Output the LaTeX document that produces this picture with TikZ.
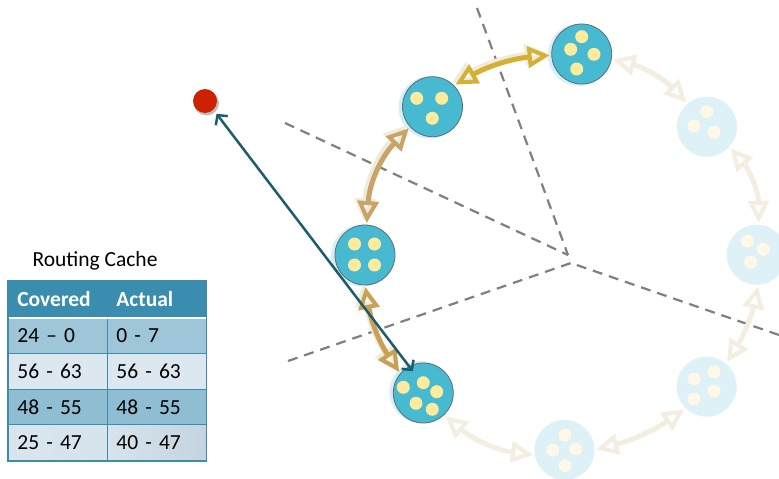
\documentclass[tikz,border=0pt]{standalone}
\usepackage{fontspec}
\setmainfont{Carlito}
\usetikzlibrary{arrows.meta,calc}
\definecolor{nodeblue}{HTML}{47B9D1}
\definecolor{nodeedge}{HTML}{5E6E74}
\definecolor{haloblue}{HTML}{D6EEF5}
\definecolor{ghostblue}{HTML}{DDF1F7}
\definecolor{dotyellow}{HTML}{FCEB9C}
\definecolor{dotcream}{HTML}{FDF8E7}
\definecolor{goldlink}{HTML}{D4B132}
\definecolor{tanlink}{HTML}{C8A468}
\definecolor{tanlinkb}{HTML}{C9A056}
\definecolor{ghostlinkc}{HTML}{F3EEDF}
\definecolor{shadowc}{HTML}{F0EAD9}
\definecolor{tealline}{HTML}{1D5C6C}
\definecolor{reddot}{HTML}{CC2200}
\definecolor{dashc}{HTML}{808080}
\definecolor{hdrc}{HTML}{3A8DAE}
\definecolor{rowa}{HTML}{9FC5D8}
\definecolor{rowb}{HTML}{DCE7F0}
\definecolor{rowc}{HTML}{8FBDD1}
\definecolor{rowd}{HTML}{D9E5EE}
\definecolor{rowdr}{HTML}{C3D4E0}
\tikzset{
  ringnode/.style={circle, minimum size=60pt, inner sep=0pt, outer sep=0pt},
  live/.style={ringnode, fill=nodeblue, draw=nodeedge, line width=0.8pt},
  ghost/.style={ringnode, fill=ghostblue},
  halo/.style={fill=haloblue},
  dotlive/.style={fill=dotyellow},
  dotghost/.style={fill=dotcream},
  link/.style={line width=5pt, shorten <=2pt, shorten >=2pt,
    arrows={Triangle[open,length=22pt,width=21pt,line width=4pt]-Triangle[open,length=22pt,width=21pt,line width=4pt]}},
  shadowlink/.style={link, draw=shadowc, transform canvas={shift={(-3pt,2.5pt)}}},
  ghostlink/.style={link, draw=ghostlinkc},
  divider/.style={dashc, line width=2.2pt, dash pattern=on 10pt off 7pt},
  cell/.style={anchor=north west, minimum width=99pt, minimum height=35.8pt, inner sep=0pt,
    text width=81pt, align=left, draw=hdrc, line width=0.7pt, font=\fontsize{21.5}{24}\selectfont, text=black},
  hdrcell/.style={cell, fill=hdrc, text=white, font=\fontsize{21.5}{24}\selectfont\bfseries},
}
\begin{document}
\begin{tikzpicture}[x=1pt,y=1pt]
\useasboundingbox (0,0) rectangle (779,-479);
\fill[white] (0,0) rectangle (779,-479);

% partition lines
\coordinate (OU) at (568,-255);
\coordinate (OL) at (571,-263);
\coordinate (PT) at (477,-8);
\coordinate (PUL) at (285,-123);
\coordinate (PLL) at (288,-361);
\coordinate (PR) at (779,-335);
\draw[divider] (PT) -- (OU);
\draw[divider] (PUL) -- (OU);
\draw[divider] (PLL) -- (OL);
\draw[divider] (PR) -- (OL);

% halos of live nodes
\fill[halo] (429.5,-107.5) circle[radius=31];
\fill[halo] (579,-55) circle[radius=31];
\fill[halo] (362,-255.5) circle[radius=31];
\fill[halo] (420.5,-392) circle[radius=31];

% nodes
\node[live] (A) at (432.5,-106.7) {};
\node[live] (B) at (581.7,-54) {};
\node[live] (C) at (365,-255) {};
\node[live] (D) at (423.3,-393) {};
\node[ghost] (E) at (564.5,-450) {};
\node[ghost] (F) at (706.7,-386.7) {};
\node[ghost] (G) at (756.7,-254.7) {};
\node[ghost] (H) at (707,-126.7) {};

% dots
\foreach \p in {(-15.8,8.4),(9.2,8.4),(-0.2,-11.6)} \fill[dotlive] ([shift={\p}]A.center) circle[radius=6.5];
\foreach \p in {(0,17.3),(-11,4.7),(12.3,-0.3),(-5,-15)} \fill[dotlive] ([shift={\p}]B.center) circle[radius=6.5];
\foreach \p in {(-10.5,11),(9.5,11),(-10.5,-10),(9.5,-10)} \fill[dotlive] ([shift={\p}]C.center) circle[radius=6.5];
\foreach \p in {(-20,5.7),(0,10.3),(13.4,1.3),(-7.3,-10.3),(9,-16.3)} \fill[dotlive] ([shift={\p}]D.center) circle[radius=6.5];
\foreach \p in {(0.5,15),(-11.8,0),(11.2,1),(0.5,-15.7)} \fill[dotghost] ([shift={\p}]E.center) circle[radius=6.5];
\foreach \p in {(-12.7,7.7),(7.3,15),(7.3,-4.3),(-12.7,-12.3)} \fill[dotghost] ([shift={\p}]F.center) circle[radius=6.5];
\foreach \p in {(-9.4,13.7),(6.6,5.4),(-6,-7.6)} \fill[dotghost] ([shift={\p}]G.center) circle[radius=6.5];
\foreach \p in {(-0.3,15),(-13,0.7),(7,-5.6)} \fill[dotghost] ([shift={\p}]H.center) circle[radius=6.5];

% links: shadows
\draw[shadowlink] (A.45) to[bend left=12] (B.182);
\draw[shadowlink] (C.87) to[bend left=20] (A.222);
\draw[shadowlink] (C.270) to[bend right=12] (D.140);
% links
\draw[link, draw=goldlink] (A.45) to[bend left=12] (B.182);
\draw[link, draw=tanlink] (C.87) to[bend left=20] (A.222);
\draw[link, draw=tanlinkb] (C.270) to[bend right=12] (D.140);
\draw[ghostlink] (D.-47) to[bend right=16] (E.190);
\draw[ghostlink] (E.0) to[bend right=10] (F.226);
\draw[ghostlink] (F.50) to[bend right=10] (G.273);
\draw[ghostlink] (G.86) to[bend right=20] (H.-42);
\draw[ghostlink] (H.130) to[bend right=16] (B.-10);

% requester
\fill[black, opacity=0.25] (206.5,-103) circle[radius=12.5];
\node[circle, fill=reddot, minimum size=24pt, inner sep=0pt] (R) at (205,-101) {};
\draw[tealline, line width=2.5pt, shorten <=5pt, shorten >=-6pt,
  arrows={Straight Barb[length=7pt,width=15pt]-Straight Barb[length=7pt,width=15pt]}] (R.-46) -- (D.118);

% routing cache table
\node[anchor=base west, font=\fontsize{21.5}{24}\selectfont] (title) at (29,-266.5) {Routing Cache};
\node[hdrcell] (h1) at (8,-281) {Covered};
\node[hdrcell] (h2) at (107,-281) {Actual};
\node[cell, fill=rowa] (r11) at (8,-317) {24 – 0};
\node[cell, fill=rowa] (r12) at (107,-317) {0 - 7};
\node[cell, fill=rowb] (r21) at (8,-352.8) {56 - 63};
\node[cell, fill=rowb] (r22) at (107,-352.8) {56 - 63};
\node[cell, fill=rowc] (r31) at (8,-388.6) {48 - 55};
\node[cell, fill=rowc] (r32) at (107,-388.6) {48 - 55};
\node[cell, left color=rowd, right color=rowd!92!rowdr] (r41) at (8,-424.4) {25 - 47};
\node[cell, left color=rowd!92!rowdr, right color=rowdr] (r42) at (107,-424.4) {40 - 47};
\draw[white, line width=2pt] (h1.south west) -- (h2.south east);
\draw[hdrc, line width=1.2pt] (h1.north west) rectangle (r42.south east);
\end{tikzpicture}
\end{document}
